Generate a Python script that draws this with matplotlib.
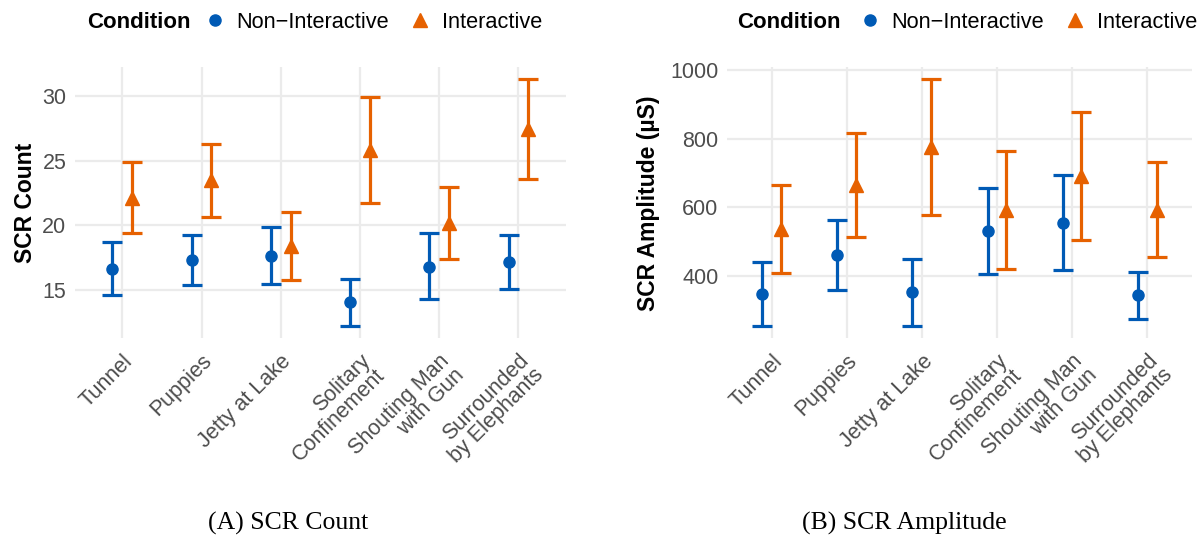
import numpy as np
import matplotlib
matplotlib.use("Agg")
import matplotlib.pyplot as plt
from matplotlib.lines import Line2D

plt.rcParams['font.family'] = ['Liberation Sans', 'DejaVu Sans']

scenes = ["Tunnel", "Puppies", "Jetty at Lake", "Solitary\nConfinement",
          "Shouting Man\nwith Gun", "Surrounded\nby Elephants"]

# SCR count: mean and CI bounds
count_ni = [16.65, 17.33, 17.64, 14.06, 16.81, 17.15]
count_ni_lo = [14.62, 15.40, 15.45, 12.25, 14.31, 15.09]
count_ni_hi = [18.72, 19.26, 19.85, 15.86, 19.38, 19.23]
count_i = [22.15, 23.49, 18.41, 25.81, 20.16, 27.45]
count_i_lo = [19.44, 20.68, 15.78, 21.70, 17.40, 23.61]
count_i_hi = [24.87, 26.29, 21.04, 29.92, 22.93, 31.29]

# SCR amplitude (uS): mean and CI bounds
amp_ni = [347, 461, 352, 532, 555, 344]
amp_ni_lo = [255, 359, 255, 406, 416, 274]
amp_ni_hi = [441, 562, 449, 657, 694, 412]
amp_i = [537, 664, 775, 592, 692, 593]
amp_i_lo = [408, 512, 577, 420, 505, 455]
amp_i_hi = [664, 816, 973, 764, 879, 732]

blue = "#005AB5"
orange = "#E66100"
W, H = 1202, 541


def panel(ax, ni, ni_lo, ni_hi, it, it_lo, it_hi, yticks, ylabel, ylab_x):
    x = np.arange(len(scenes))
    ni, ni_lo, ni_hi = map(np.array, (ni, ni_lo, ni_hi))
    it, it_lo, it_hi = map(np.array, (it, it_lo, it_hi))
    ax.errorbar(x - 0.125, ni, yerr=[ni - ni_lo, ni_hi - ni], fmt='o', color=blue,
                ms=8, elinewidth=2.3, capsize=7, capthick=2.3, zorder=3)
    ax.errorbar(x + 0.125, it, yerr=[it - it_lo, it_hi - it], fmt='^', color=orange,
                ms=9.5, elinewidth=2.3, capsize=7, capthick=2.3, zorder=3)
    lo = min(ni_lo.min(), it_lo.min())
    hi = max(ni_hi.max(), it_hi.max())
    pad = 0.05 * (hi - lo)
    ax.set_ylim(lo - pad, hi + pad)
    ax.set_xlim(-0.6, len(scenes) - 0.4)
    ax.set_yticks(yticks)
    ax.set_xticks(x)
    ax.set_xticklabels(scenes, rotation=45, ha='right', va='top',
                       rotation_mode='anchor', multialignment='right',
                       linespacing=0.95)
    for s in ax.spines.values():
        s.set_visible(False)
    ax.grid(True, color='#EBEBEB', lw=1.6)
    ax.set_axisbelow(True)
    ax.tick_params(length=0, pad=6, labelsize=15.5, labelcolor='#4D4D4D')
    ax.tick_params(axis='x', pad=9)
    fig.text(ylab_x / W, 1 - 203 / H, ylabel, rotation=90, ha='center', va='center',
             fontsize=16.5, fontweight='bold')


def legend(x_title, x_handles):
    fig.text(x_title / W, 1 - 22 / H, "Condition", fontsize=16, fontweight='bold',
             ha='left', va='center')
    handles = [Line2D([], [], ls='none', marker='o', color=blue, ms=8),
               Line2D([], [], ls='none', marker='^', color=orange, ms=9.5)]
    fig.legend(handles, ["Non\u2212Interactive", "Interactive"], ncol=2,
               loc='center left', bbox_to_anchor=(x_handles / W, 1 - 22 / H),
               frameon=False, borderaxespad=0, borderpad=0, handlelength=1.0,
               handletextpad=0.5, columnspacing=0.9, fontsize=15.7)


fig = plt.figure(figsize=(W / 100, H / 100), dpi=100)
ax1 = fig.add_axes([74.8 / W, 1 - 338 / H, (566 - 74.8) / W, (338 - 67) / H])
ax2 = fig.add_axes([726.6 / W, 1 - 338 / H, (1192.2 - 726.6) / W, (338 - 67) / H])

panel(ax1, count_ni, count_ni_lo, count_ni_hi, count_i, count_i_lo, count_i_hi,
      [15, 20, 25, 30], "SCR Count", 26)
panel(ax2, amp_ni, amp_ni_lo, amp_ni_hi, amp_i, amp_i_lo, amp_i_hi,
      [400, 600, 800, 1000], "SCR Amplitude (\u00b5S)", 648)

legend(87, 204)
legend(737, 859)

fig.text(288 / W, 1 - 523 / H, "(A) SCR Count", fontsize=18.5, family='Liberation Serif',
         ha='center', va='center')
fig.text(904 / W, 1 - 523 / H, "(B) SCR Amplitude", fontsize=18.5, family='Liberation Serif',
         ha='center', va='center')

fig.savefig("out.png", dpi=100)
